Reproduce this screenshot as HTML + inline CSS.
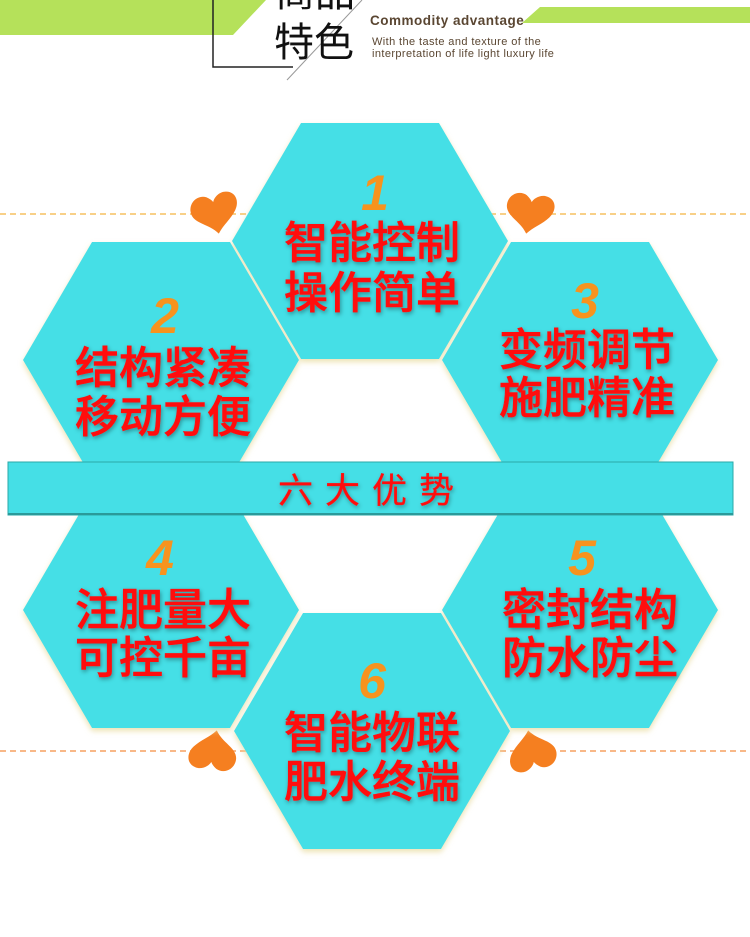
<!DOCTYPE html>
<html><head><meta charset="utf-8"><style>
html,body{margin:0;padding:0;background:#fff;width:750px;height:937px;overflow:hidden}
svg{display:block}
.n{font-family:"Liberation Sans",sans-serif;font-style:italic;font-weight:bold;font-size:50px;fill:#f7931e;text-anchor:middle}
.t{font-family:"Liberation Sans","Noto Sans CJK SC",sans-serif;font-weight:500;font-size:44px;fill:#ff1010;stroke:#ff1010;stroke-width:0.6;text-anchor:middle;filter:url(#sh)}
</style></head><body>
<svg width="750" height="937" viewBox="0 0 750 937">
<defs>
<filter id="sh" x="-20%" y="-30%" width="140%" height="160%"><feDropShadow dx="1" dy="2" stdDeviation="2" flood-color="#000" flood-opacity="0.35"/></filter>
<filter id="hs" x="-10%" y="-10%" width="120%" height="125%"><feDropShadow dx="0" dy="3" stdDeviation="3" flood-color="#e8dca0" flood-opacity="0.8"/></filter>
<path id="hx" d="M-69,-118 L69,-118 L138,0 L69,118 L-69,118 L-138,0 Z"/>
<path id="hr" d="M0,22 C-8,10 -24,8 -24,-4 C-24,-14 -14,-20 -6,-16 C-3,-14 -1,-12 0,-10 C1,-14 8,-20 15,-18 C24,-16 26,-6 20,2 C14,10 6,14 0,22 Z"/>
</defs>
<polygon points="0,0 266,0 233,35 0,35" fill="#b5e15a"/>
<polygon points="540,7 750,7 750,23 522,23" fill="#b5e15a"/>
<polyline points="213,0 213,67 293,67" fill="none" stroke="#222" stroke-width="1.5"/>
<line x1="362" y1="0" x2="287" y2="80" stroke="#999" stroke-width="1"/>
<text x="275" y="6" font-family="Liberation Sans,Noto Sans CJK SC,sans-serif" font-size="40" fill="#111">商品</text>
<text x="274" y="56" font-family="Liberation Sans,Noto Sans CJK SC,sans-serif" font-size="40" fill="#111">特色</text>
<text x="370" y="25" font-family="Liberation Sans,sans-serif" font-weight="bold" font-size="13.5" letter-spacing="0.5" fill="#5a4632">Commodity advantage</text>
<text x="372" y="45" font-family="Liberation Sans,sans-serif" font-size="11" letter-spacing="0.4" fill="#5a4632">With the taste and texture of the</text>
<text x="372" y="57" font-family="Liberation Sans,sans-serif" font-size="11" letter-spacing="0.4" fill="#5a4632">interpretation of life light luxury life</text>
<line x1="0" y1="214" x2="750" y2="214" stroke="#f5c060" stroke-width="1.5" stroke-dasharray="6,4"/>
<line x1="0" y1="751" x2="750" y2="751" stroke="#f5a060" stroke-width="1.5" stroke-dasharray="6,4"/>
<use href="#hr" transform="translate(215,212) rotate(-10)" fill="#f57f20"/>
<use href="#hr" transform="translate(530,212) rotate(10)" fill="#f57f20"/>
<use href="#hr" transform="translate(213,752) rotate(190)" fill="#f57f20"/>
<use href="#hr" transform="translate(532,752) rotate(170)" fill="#f57f20"/>
<g fill="#45dfe6" filter="url(#hs)">
<use href="#hx" transform="translate(370,241)"/>
<use href="#hx" transform="translate(161,360)"/>
<use href="#hx" transform="translate(580,360)"/>
<use href="#hx" transform="translate(161,610)"/>
<use href="#hx" transform="translate(580,610)"/>
<use href="#hx" transform="translate(372,731)"/>
</g>
<rect x="8" y="462" width="725" height="53" fill="#45dfe6" stroke="#2aa8a8" stroke-width="1"/>
<rect x="8" y="513" width="725" height="2" fill="#2a9a9a"/>
<text class="t" x="372" y="503" style="font-size:35px;font-weight:normal;stroke-width:0.3;letter-spacing:12px">六大优势</text>
<text class="n" x="375" y="210">1</text>
<text class="t" x="372" y="258">智能控制</text>
<text class="t" x="372" y="308">操作简单</text>
<text class="n" x="165" y="333">2</text>
<text class="t" x="163" y="383">结构紧凑</text>
<text class="t" x="163" y="432">移动方便</text>
<text class="n" x="585" y="318">3</text>
<text class="t" x="587" y="365">变频调节</text>
<text class="t" x="587" y="413">施肥精准</text>
<text class="n" x="160" y="575">4</text>
<text class="t" x="163" y="625">注肥量大</text>
<text class="t" x="163" y="673">可控千亩</text>
<text class="n" x="582" y="575">5</text>
<text class="t" x="590" y="625">密封结构</text>
<text class="t" x="590" y="673">防水防尘</text>
<text class="n" x="372" y="698">6</text>
<text class="t" x="372" y="748">智能物联</text>
<text class="t" x="372" y="797">肥水终端</text>
</svg>
</body></html>
